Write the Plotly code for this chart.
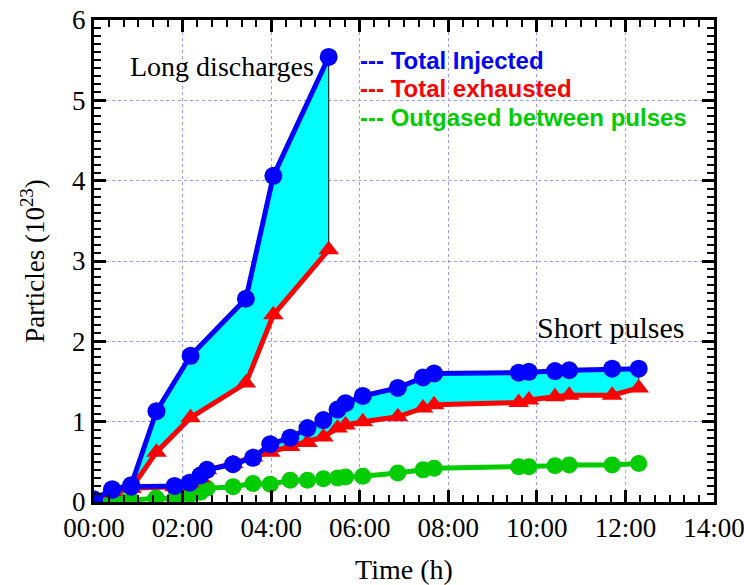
import plotly.graph_objects as go

# ---- data (time in hours, particles in 1e23) ----
long_t = [0.0, 0.41, 0.84, 1.41, 2.18, 3.43, 4.05, 5.30]
long_injected = [0.03, 0.16, 0.21, 1.13, 1.82, 2.53, 4.06, 5.54]
long_exhausted = [0.02, 0.13, 0.17, 0.62, 1.05, 1.48, 2.33, 3.14]

short_t = [0.0, 0.41, 0.84, 1.82, 2.16, 2.40, 2.55, 3.14, 3.59, 3.98, 4.43, 4.82,
           5.18, 5.50, 5.68, 6.07, 6.86, 7.43, 7.68, 9.59, 9.82, 10.41, 10.73, 11.70, 12.30]
short_injected = [0.03, 0.15, 0.19, 0.20, 0.24, 0.33, 0.40, 0.47, 0.55, 0.72, 0.80, 0.92,
                  1.02, 1.15, 1.23, 1.32, 1.42, 1.55, 1.60, 1.61, 1.62, 1.63, 1.64, 1.66, 1.66]
short_exhausted = [0.02, 0.13, 0.17, 0.19, 0.24, 0.30, 0.40, 0.48, 0.56, 0.62, 0.69, 0.74,
                   0.81, 0.92, 0.96, 1.00, 1.06, 1.17, 1.21, 1.24, 1.27, 1.31, 1.33, 1.33, 1.42]
short_outgased = [0.0, 0.01, 0.02, 0.04, 0.09, 0.12, 0.17, 0.19, 0.23, 0.22, 0.27, 0.27,
                  0.29, 0.30, 0.31, 0.32, 0.36, 0.40, 0.42, 0.44, 0.44, 0.45, 0.46, 0.46, 0.48]
green_early_t = [0.6, 1.4]
green_early_v = [0.01, 0.05]

x_tickvals = [0, 2, 4, 6, 8, 10, 12, 14]
x_ticktext = ["00:00", "02:00", "04:00", "06:00", "08:00", "10:00", "12:00", "14:00"]
y_tickvals = [0, 1, 2, 3, 4, 5, 6]

BLUE = "#0000ff"
RED = "#ff0000"
GREEN = "#00cc00"
CYAN = "#00ffff"

fig = go.Figure()

# filled gaps between injected and exhausted
fig.add_trace(go.Scatter(
    x=long_t + long_t[::-1], y=long_injected + long_exhausted[::-1],
    fill="toself", fillcolor=CYAN, mode="lines",
    line=dict(color="black", width=1), showlegend=False, hoverinfo="skip"))
fig.add_trace(go.Scatter(
    x=short_t + short_t[::-1], y=short_injected + short_exhausted[::-1],
    fill="toself", fillcolor=CYAN, mode="lines",
    line=dict(color="black", width=1), showlegend=False, hoverinfo="skip"))

# outgased
green_pts = sorted(zip(short_t + green_early_t, short_outgased + green_early_v))
fig.add_trace(go.Scatter(
    x=[p[0] for p in green_pts], y=[p[1] for p in green_pts],
    mode="lines+markers", line=dict(color=GREEN, width=5),
    marker=dict(symbol="circle", size=17, color=GREEN), showlegend=False))

# exhausted
for t, v in [(short_t, short_exhausted), (long_t, long_exhausted)]:
    fig.add_trace(go.Scatter(
        x=t, y=v, mode="lines+markers", line=dict(color=RED, width=5),
        marker=dict(symbol="triangle-up", size=18, color=RED), showlegend=False))

# injected
for t, v in [(short_t, short_injected), (long_t, long_injected)]:
    fig.add_trace(go.Scatter(
        x=t, y=v, mode="lines+markers", line=dict(color=BLUE, width=5),
        marker=dict(symbol="circle", size=18, color=BLUE), showlegend=False))

serif = "Liberation Serif, Times New Roman, serif"
sans = "Liberation Sans, Arial, sans-serif"

axis_common = dict(
    showline=True, linecolor="black", linewidth=3, mirror="allticks",
    ticks="inside", ticklen=12, tickwidth=3, tickcolor="black",
    showgrid=True, gridcolor="#9a9aff", griddash="dot", gridwidth=1,
    zeroline=False, automargin=False, ticklabeloverflow="allow",
    tickfont=dict(family=serif, size=27, color="black"),
)

fig.update_xaxes(
    range=[0, 14], tickvals=x_tickvals, ticktext=x_ticktext,
    title=dict(text="Time (h)", font=dict(family=serif, size=28, color="black"), standoff=38),
    minor=dict(dtick=1/3, ticks="inside", ticklen=7, tickwidth=2, tickcolor="black", showgrid=False),
    **axis_common)
fig.update_yaxes(
    range=[0, 6], tickvals=y_tickvals,
    title=dict(text="Particles (10<sup>23</sup>)", font=dict(family=serif, size=27, color="black"), standoff=20),
    minor=dict(dtick=0.1, ticks="inside", ticklen=7, tickwidth=2, tickcolor="black", showgrid=False),
    **axis_common)

annotations = [
    dict(x=2.89, y=5.42, text="Long discharges", showarrow=False,
         font=dict(family=serif, size=28, color="black")),
    dict(x=11.67, y=2.17, text="Short pulses", showarrow=False,
         font=dict(family=serif, size=30, color="black")),
    dict(x=5.95, y=5.5, xanchor="left", text="<b>--- Total Injected</b>", showarrow=False,
         font=dict(family=sans, size=24, color=BLUE)),
    dict(x=5.95, y=5.15, xanchor="left", text="<b>--- Total exhausted</b>", showarrow=False,
         font=dict(family=sans, size=24, color=RED)),
    dict(x=5.95, y=4.79, xanchor="left", text="<b>--- Outgased between pulses</b>", showarrow=False,
         font=dict(family=sans, size=24, color=GREEN)),
]

fig.update_layout(
    width=744, height=585,
    margin=dict(l=94, r=30, t=20, b=83),
    paper_bgcolor="white", plot_bgcolor="white",
    annotations=annotations, showlegend=False,
)

fig.write_html("out.html", config={"displayModeBar": False},
               post_script="document.body.style.margin='0';")
